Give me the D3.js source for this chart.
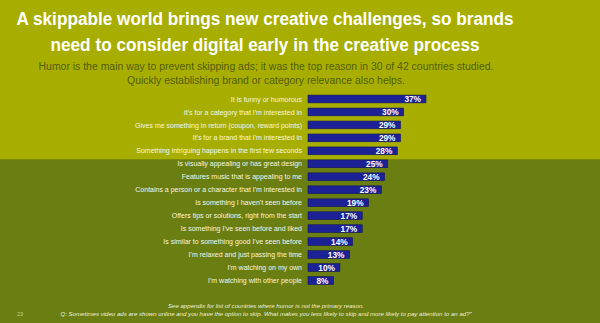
<!DOCTYPE html>
<html>
<head>
<meta charset="utf-8">
<script src="https://cdn.jsdelivr.net/npm/d3@7/dist/d3.min.js"></script>
<style>
html,body{margin:0;padding:0;background:#6b7e12;}
svg{display:block;}
text{font-family:"Liberation Sans",Arial,sans-serif;}
</style>
</head>
<body>
<svg id="chart" width="600" height="323"></svg>
<script>
const titleLines = ["A skippable world brings new creative challenges, so brands","need to consider digital early in the creative process"];
const subtitleLines = ["Humor is the main way to prevent skipping ads; it was the top reason in 30 of 42 countries studied.","Quickly establishing brand or category relevance also helps."];
const categories = [
  "It is funny or humorous",
  "It's for a category that I'm interested in",
  "Gives me something in return (coupon, reward points)",
  "It's for a brand that I'm interested in",
  "Something intriguing happens in the first few seconds",
  "Is visually appealing or has great design",
  "Features music that is appealing to me",
  "Contains a person or a character that I'm interested in",
  "Is something I haven't seen before",
  "Offers tips or solutions, right from the start",
  "Is something I've seen before and liked",
  "Is similar to something good I've seen before",
  "I'm relaxed and just passing the time",
  "I'm watching on my own",
  "I'm watching with other people"
];
const values = [37,30,29,29,28,25,24,23,19,17,17,14,13,10,8];
const footnotes = ["See appendix for list of countries where humor is not the primary reason.",
  "Q:  Sometimes video ads are shown online and you have the option to skip. What makes you less likely to skip and more likely to pay attention to an ad?\u201d"];
const pageNumber = "23";

const svg = d3.select("#chart");
const W = 600, H = 323;
// backgrounds
svg.append("rect").attr("x",0).attr("y",0).attr("width",W).attr("height",159.5).attr("fill","#a8ae00");
svg.append("rect").attr("x",0).attr("y",159.5).attr("width",W).attr("height",H-159.5).attr("fill","#6b7e12");
svg.append("line").attr("x1",0).attr("x2",W).attr("y1",159.5).attr("y2",159.5).attr("stroke","#7f8a08").attr("stroke-width",1);

// title
svg.append("g").attr("transform","translate(265,0) scale(0.94,1)")
  .selectAll("text").data(titleLines).join("text")
  .attr("x",0).attr("y",(d,i)=>25.5+i*25.5).attr("text-anchor","middle")
  .attr("fill","#ffffff").attr("font-weight","bold").attr("font-size",18.3).text(d=>d);
svg.append("g").selectAll("text").data(subtitleLines).join("text")
  .attr("x",266).attr("y",(d,i)=>69.5+i*14.5).attr("text-anchor","middle")
  .attr("fill","#535d0a").attr("font-size",10.45).text(d=>d);

const x = d3.scaleLinear().domain([0,37]).range([308,426]);
const y = d3.scaleBand().domain(categories).range([92.5,287]).paddingInner(0.4).paddingOuter(0.2);

const g = svg.append("g");
g.selectAll("rect.bar").data(values).join("rect").attr("class","bar")
  .attr("x",x(0)).attr("y",(d,i)=>y(categories[i]))
  .attr("width",d=>x(d)-x(0)).attr("height",y.bandwidth())
  .attr("fill","#1c2196").attr("stroke","#13175e").attr("stroke-width",0.6);
g.selectAll("text.val").data(values).join("text").attr("class","val")
  .attr("x",d=>x(d)-5).attr("y",(d,i)=>y(categories[i])+y.bandwidth()/2+3)
  .attr("text-anchor","end").attr("fill","#ffffff").attr("font-weight","bold")
  .attr("font-size",8.3).text(d=>d+"%");
g.selectAll("text.cat").data(categories).join("text").attr("class","cat")
  .attr("x",302).attr("y",d=>y(d)+y.bandwidth()/2+2.6)
  .attr("text-anchor","end").attr("fill","#f4f6e6").attr("font-size",7).text(d=>d);

svg.append("g").selectAll("text").data(footnotes).join("text")
  .attr("x",266).attr("y",(d,i)=>308+i*8).attr("text-anchor","middle")
  .attr("fill","#eef0dc").attr("font-style","italic").attr("font-size",6.1).text(d=>d);
svg.append("text").attr("x",20).attr("y",316).attr("text-anchor","middle")
  .attr("fill","#c6d08a").attr("font-size",5.5).text(pageNumber);
</script>
</body>
</html>
